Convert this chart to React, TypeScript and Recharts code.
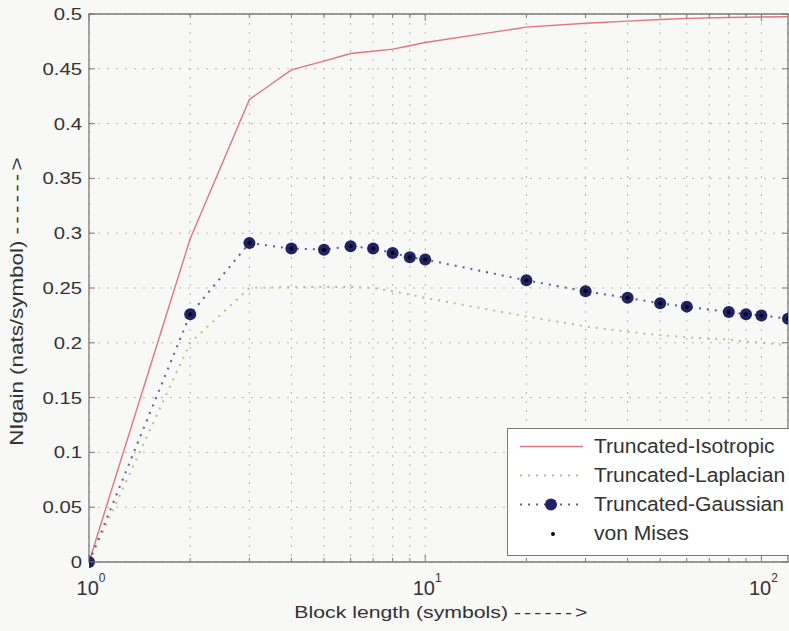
import React from 'react';
import { LineChart, Line, XAxis, YAxis, CartesianGrid, ReferenceArea, Legend } from 'recharts';

// block lengths (symbols) where each scheme was evaluated
const blockLength = [1, 2, 3, 4, 5, 6, 7, 8, 9, 10, 20, 30, 40, 50, 60, 80, 90, 100, 120];

// normalized gain, nats/symbol
const isotropic = [0, 0.295, 0.422, 0.449, 0.457, 0.464, 0.466, 0.468, 0.471, 0.474, 0.488, 0.4915, 0.4935, 0.495, 0.496, 0.4968, 0.497, 0.4972, 0.4975];
const laplacian = [0, 0.2, 0.25, 0.251, 0.251, 0.251, 0.25, 0.247, 0.244, 0.241, 0.224, 0.215, 0.21, 0.207, 0.205, 0.203, 0.201, 0.2, 0.198];
const gaussian = [0, 0.226, 0.291, 0.286, 0.285, 0.288, 0.286, 0.282, 0.278, 0.276, 0.257, 0.247, 0.241, 0.236, 0.233, 0.228, 0.226, 0.225, 0.222];
const vonMises = [0, 0.226, 0.291, 0.286, 0.285, 0.288, 0.286, 0.282, 0.278, 0.276, 0.257, 0.247, 0.241, 0.236, 0.233, 0.228, 0.226, 0.225, 0.222];

const seriesNames = ['Truncated-Isotropic', 'Truncated-Laplacian', 'Truncated-Gaussian', 'von Mises'];

const xTicks = [1, 2, 3, 4, 5, 6, 7, 8, 9, 10, 20, 30, 40, 50, 60, 70, 80, 90, 100];
const yTicks = [0, 0.05, 0.1, 0.15, 0.2, 0.25, 0.3, 0.35, 0.4, 0.45, 0.5];

const data = blockLength.map((x, i) => ({
  x,
  iso: isotropic[i],
  lap: laplacian[i],
  gau: gaussian[i],
  vm: vonMises[i],
}));

const W = 789;
const H = 631;
const PLOT_TOP = 14;
const PLOT_LEFT = 89;
const PLOT_RIGHT = 788;
const PLOT_BOTTOM = 562;

const FRAME = '#7a7a7a';
const TEXT = '#333';
const RED = '#e0767c';
const OLIVE = '#c2bc82';
const NAVY = '#1f2366';
const NAVY_LINE = '#5a5e9c';
const FONT = '"Liberation Sans", Arial, sans-serif';

const XTick = (props: any) => {
  const { x, payload } = props;
  const exp = Math.round(Math.log10(payload.value));
  const major = Math.abs(Math.log10(payload.value) - exp) < 1e-9;
  const len = major ? 7 : 4;
  return (
    <g>
      <line x1={x} x2={x} y1={PLOT_BOTTOM} y2={PLOT_BOTTOM - len} stroke={FRAME} />
      <line x1={x} x2={x} y1={PLOT_TOP} y2={PLOT_TOP + len} stroke={FRAME} />
      {major && (
        <text x={x + 2} y={PLOT_BOTTOM + 33} textAnchor="middle" fontSize={20} fill={TEXT} fontFamily={FONT}>
          10<tspan dy={-13} fontSize={12}>{exp}</tspan>
        </text>
      )}
    </g>
  );
};

const YTick = (props: any) => {
  const { y, payload } = props;
  return (
    <g>
      <line x1={PLOT_LEFT} x2={PLOT_LEFT + 6} y1={y} y2={y} stroke={FRAME} />
      <line x1={PLOT_RIGHT - 6} x2={PLOT_RIGHT} y1={y} y2={y} stroke={FRAME} />
      <g transform={`translate(${PLOT_LEFT - 7},${y + 6}) scale(1.27,1)`}>
        <text textAnchor="end" fontSize={16} fill={TEXT} fontFamily={FONT}>
          {payload.value}
        </text>
      </g>
    </g>
  );
};

const XLabel = (props: any) => {
  const vb = props.viewBox;
  const cx = vb.x + vb.width / 2 + 4;
  return (
    <g transform={`translate(${cx},618) scale(1.25,1)`}>
      <text textAnchor="middle" fontSize={17} fill={TEXT} fontFamily={FONT}>
        Block length (symbols) <tspan letterSpacing={2.5}>{'------>'}</tspan>
      </text>
    </g>
  );
};

const YLabel = (props: any) => {
  const vb = props.viewBox;
  const cy = vb.y + vb.height / 2 + 12;
  return (
    <g transform={`translate(23,${cy}) rotate(-90) scale(1.28,1)`}>
      <text textAnchor="middle" fontSize={17.5} fill={TEXT} fontFamily={FONT}>
        NIgain (nats/symbol) <tspan letterSpacing={2.5}>{'------>'}</tspan>
      </text>
    </g>
  );
};

// little line/marker samples drawn in front of each legend label
const LegendSample = ({ dataKey }: { dataKey: string }) => (
  <svg width={86} height={29} style={{ display: 'block', flex: 'none' }}>
    {dataKey === 'iso' && <line x1={12} x2={75} y1={14.5} y2={14.5} stroke={RED} strokeWidth={1.4} />}
    {dataKey === 'lap' && (
      <line x1={12} x2={75} y1={14.5} y2={14.5} stroke={OLIVE} strokeWidth={2} strokeDasharray="2 6" />
    )}
    {dataKey === 'gau' && (
      <>
        <line x1={12} x2={75} y1={14.5} y2={14.5} stroke={NAVY_LINE} strokeWidth={2} strokeDasharray="2 6" />
        <circle cx={43} cy={14.5} r={6} fill={NAVY} />
      </>
    )}
    {dataKey === 'vm' && <circle cx={45} cy={15} r={2} fill="#000" />}
  </svg>
);

const renderLegend = (props: any) => {
  // keep the entries in plotting order rather than alphabetical
  const items = [...(props.payload || [])].sort(
    (a: any, b: any) => seriesNames.indexOf(a.value) - seriesNames.indexOf(b.value)
  );
  return (
    <div
      style={{
        border: `1.5px solid ${FRAME}`,
        background: '#fff',
        width: 320,
        height: 128,
        boxSizing: 'border-box',
        paddingTop: 3,
        fontFamily: FONT,
        color: TEXT,
      }}
    >
      {items.map((entry: any) => (
        <div key={entry.dataKey} style={{ display: 'flex', alignItems: 'center', height: 29 }}>
          <LegendSample dataKey={entry.dataKey} />
          <span
            style={{
              display: 'inline-block',
              fontSize: 19.5,
              transform: 'scaleX(1.08)',
              transformOrigin: 'left center',
              whiteSpace: 'nowrap',
            }}
          >
            {entry.value}
          </span>
        </div>
      ))}
    </div>
  );
};

const App: React.FC = () => {
  return (
    <div
      style={{
        position: 'absolute',
        left: 0,
        top: 0,
        width: W,
        height: H,
        overflow: 'hidden',
        background: '#f8f8f7',
      }}
    >
      <LineChart width={W} height={H} data={data} margin={{ top: PLOT_TOP, right: W - PLOT_RIGHT, left: 0, bottom: 0 }}>
        <CartesianGrid stroke="#b4b4b4" strokeDasharray="2 7" />
        <XAxis
          dataKey="x"
          type="number"
          scale="log"
          domain={[1, 120]}
          allowDataOverflow
          ticks={xTicks}
          interval={0}
          height={H - PLOT_BOTTOM}
          axisLine={false}
          tickLine={false}
          tickSize={0}
          tickMargin={0}
          tick={<XTick />}
          label={<XLabel />}
        />
        <YAxis
          type="number"
          domain={[0, 0.5]}
          ticks={yTicks}
          interval={0}
          width={PLOT_LEFT}
          axisLine={false}
          tickLine={false}
          tickSize={0}
          tickMargin={0}
          tick={<YTick />}
          label={<YLabel />}
        />
        <Legend
          layout="vertical"
          align="center"
          verticalAlign="middle"
          content={renderLegend}
          wrapperStyle={{ left: 507, top: 428, right: 'auto', bottom: 'auto', width: 320 }}
        />
        <Line
          dataKey="iso"
          name={seriesNames[0]}
          type="linear"
          stroke={RED}
          strokeWidth={1.4}
          dot={false}
          activeDot={false}
          isAnimationActive={false}
        />
        <Line
          dataKey="lap"
          name={seriesNames[1]}
          type="linear"
          stroke={OLIVE}
          strokeWidth={2}
          strokeDasharray="2 6"
          dot={false}
          activeDot={false}
          isAnimationActive={false}
        />
        <Line
          dataKey="gau"
          name={seriesNames[2]}
          type="linear"
          stroke={NAVY_LINE}
          strokeWidth={2}
          strokeDasharray="2 6"
          dot={{ r: 6, fill: NAVY, stroke: 'none' }}
          activeDot={false}
          isAnimationActive={false}
        />
        <Line
          dataKey="vm"
          name={seriesNames[3]}
          type="linear"
          stroke="none"
          dot={{ r: 2, fill: '#000', stroke: 'none' }}
          activeDot={false}
          isAnimationActive={false}
        />
        <ReferenceArea x1={1} x2={120} y1={0} y2={0.5} fill="none" stroke={FRAME} strokeWidth={1.3} />
      </LineChart>
    </div>
  );
};

export default App;
